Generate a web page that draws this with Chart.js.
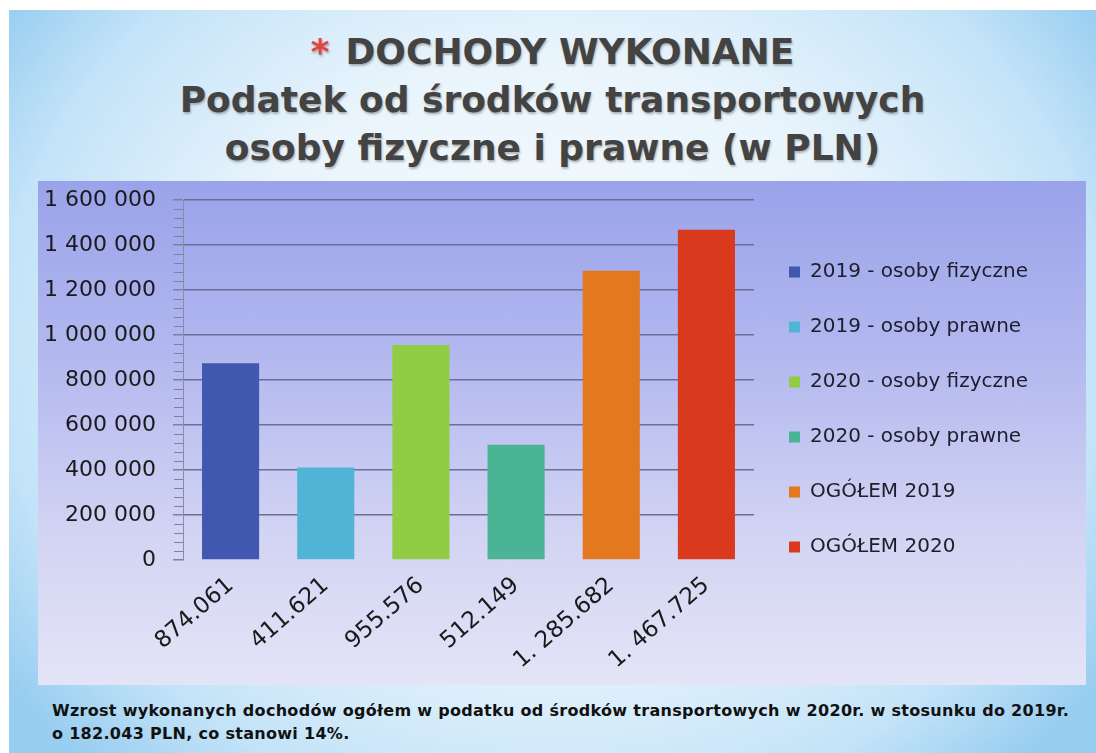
<!DOCTYPE html>
<html>
<head>
<meta charset="utf-8">
<script src="https://cdn.jsdelivr.net/npm/chart.js@4.4.1/dist/chart.umd.min.js"></script>
<style>
  html, body { margin: 0; padding: 0; background: #ffffff; }
  body { width: 1096px; height: 753px; position: relative; overflow: hidden; font-family: "DejaVu Sans", sans-serif; }
  #slide {
    position: absolute; left: 9px; top: 10px; width: 1087px; height: 743px;
    background: radial-gradient(ellipse 62% 78% at 50% 45%, #f8fcfe 0%, #e9f4fc 50%, #c3e3f8 82%, #97cdf0 100%);
  }
  #title {
    position: absolute; left: 9px; top: 28px; width: 1087px;
    text-align: center; font-family: "DejaVu Sans", sans-serif; font-weight: bold;
    font-size: 36px; line-height: 48px; color: #434343;
    text-shadow: 1px 2px 2px rgba(120,120,120,0.5);
  }
  #title .star { color: #e0463c; margin-right: 16px; }
  #panel {
    position: absolute; left: 38px; top: 181px; width: 1048px; height: 504px;
    background: linear-gradient(to bottom, #9aa3ea 0%, #b3b8ef 35%, #d2d4f3 70%, #e4e4f7 100%);
  }
  #panel canvas { display: block; }
  #note {
    position: absolute; left: 52px; top: 699px; width: 1044px; white-space: nowrap;
    font-family: "DejaVu Sans", sans-serif; font-weight: bold; font-size: 16px; line-height: 23px;
    letter-spacing: 0.3px; color: #111;
  }
</style>
</head>
<body>
<div id="slide"></div>
<div id="title"><span class="star">*</span>DOCHODY WYKONANE<br>Podatek od środków transportowych<br>osoby fizyczne i prawne (w PLN)</div>
<div id="panel"><canvas id="c" width="1048" height="504"></canvas></div>
<div id="note">Wzrost wykonanych dochodów ogółem w podatku od środków transportowych w 2020r. w stosunku do 2019r.<br>o 182.043 PLN, co stanowi 14%.</div>
<script>
// ---- data ----
const categories = ['874.061', '411.621', '955.576', '512.149', '1. 285.682', '1. 467.725'];
const values = [874061, 411621, 955576, 512149, 1285682, 1467725];
const seriesNames = ['2019 - osoby fizyczne', '2019 - osoby prawne', '2020 - osoby fizyczne', '2020 - osoby prawne', 'OGÓŁEM 2019', 'OGÓŁEM 2020'];
const barColors = ['#4158b0', '#4fb4d6', '#90cd44', '#4bb495', '#e3781f', '#d93a1e'];
const yMin = 0, yMax = 1600000, yStep = 200000, yMinorStep = 40000;

function fmt(v) { return String(v).replace(/\B(?=(\d{3})+(?!\d))/g, ' '); }

const LEGEND_WIDTH = 332;

// keep the legend at a fixed width (the default layout caps side boxes)
const legendSize = {
  id: 'legendSize',
  beforeLayout(chart) {
    const lg = chart.legend;
    if (lg && !lg.__fixed) {
      const orig = lg.fit;
      lg.fit = function () { orig.call(this); this.width = LEGEND_WIDTH; };
      lg.__fixed = true;
    }
  }
};

const minorTicks = {
  id: 'minorTicks',
  afterDraw(chart) {
    const y = chart.scales.y, ctx = chart.ctx;
    const x0 = y.right;
    ctx.save();
    ctx.strokeStyle = '#7d819f';
    ctx.lineWidth = 1;
    for (let v = yMin; v <= yMax; v += yMinorStep) {
      if (v % yStep === 0) continue;
      const py = Math.round(y.getPixelForValue(v)) + 0.5;
      ctx.beginPath(); ctx.moveTo(x0 - 9, py); ctx.lineTo(x0, py); ctx.stroke();
    }
    ctx.restore();
  }
};

new Chart(document.getElementById('c'), {
  type: 'bar',
  data: {
    labels: categories,
    datasets: [{ data: values, backgroundColor: barColors, borderWidth: 0, barPercentage: 0.6, categoryPercentage: 1.0 }]
  },
  options: {
    responsive: false,
    animation: false,
    layout: { padding: { left: 0, top: 19, right: 0, bottom: 0 } },
    plugins: {
      title: { display: false },
      tooltip: { enabled: false },
      legend: {
        position: 'right',
        align: 'start',
        onClick: null,
        title: { display: true, text: '', font: { size: 10, lineHeight: 1.2 }, padding: { top: 0, bottom: 15 } },
        labels: {
          boxWidth: 11, boxHeight: 11, padding: 35,
          font: { family: 'DejaVu Sans', size: 20 },
          color: '#1d1d2b',
          generateLabels: () => seriesNames.map((n, i) => ({
            text: n, fillStyle: barColors[i], strokeStyle: barColors[i], lineWidth: 0,
            hidden: false, index: i, fontColor: '#1d1d2b'
          }))
        }
      }
    },
    scales: {
      x: {
        grid: { display: false, drawTicks: false },
        border: { display: false },
        ticks: {
          minRotation: 41, maxRotation: 41, padding: 12,
          color: '#1a1a1a', font: { family: 'DejaVu Sans', size: 23 }
        },
        afterFit(s) { s.height = 125; s.paddingLeft = 0; s.paddingRight = 0; }
      },
      y: {
        min: yMin, max: yMax,
        ticks: {
          stepSize: yStep, padding: 17, color: '#1a1a1a',
          font: { family: 'DejaVu Sans', size: 22 },
          callback: (v) => fmt(v)
        },
        grid: {
          color: (c) => (c.tick && c.tick.value === 0) ? 'rgba(0,0,0,0)' : '#6b6f97',
          tickColor: '#7d819f',
          lineWidth: 1.5,
          tickLength: 10
        },
        border: { display: true, color: '#8a8da8', width: 1 },
        afterFit(s) { s.width = 145; s.paddingTop = 0; s.paddingBottom = 0; }
      }
    }
  },
  plugins: [legendSize, minorTicks]
});
</script>
</body>
</html>
